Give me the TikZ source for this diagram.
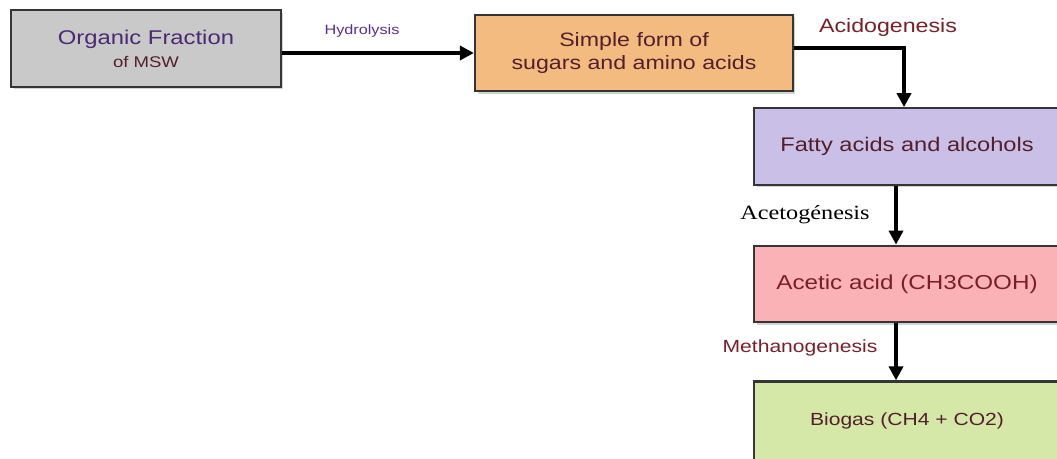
\documentclass[tikz,border=0pt]{standalone}
\usepackage{fontspec}
\setmainfont{Liberation Sans}[FakeStretch=1.2]
\newfontfamily\serifnote{Liberation Serif}[FakeStretch=1.2]
\usetikzlibrary{shapes.geometric, arrows.meta, shadows}
\definecolor{boxline}{HTML}{353535}
\definecolor{grayfill}{HTML}{C9C9C9}
\definecolor{orangefill}{HTML}{F3BB80}
\definecolor{lavenderfill}{HTML}{C9BFE7}
\definecolor{pinkfill}{HTML}{FBB2B7}
\definecolor{greenfill}{HTML}{D5E8A8}
\definecolor{orgpurple}{HTML}{4A2A72}
\definecolor{hydropurple}{HTML}{5A2D96}
\definecolor{darkred}{HTML}{7A1F28}
\definecolor{browntext}{HTML}{52202C}
\tikzstyle{stage} = [rectangle, minimum height=1.53cm, text centered, align=center, draw=boxline, line width=1.3pt, drop shadow={shadow xshift=0.05cm, shadow yshift=-0.05cm, opacity=0.35}]
\tikzstyle{steplabel} = [inner sep=0pt, text=darkred, font=\fontsize{10.5}{12}\selectfont]
\tikzstyle{arrow} = [line width=2.1pt, -{Triangle[length=8pt, width=8pt]}]

\begin{document}
\begin{tikzpicture}[x=0.02cm, y=-0.02cm]
\clip (0,0) rectangle (1057,458);
% NODES
\node (organic) [stage, fill=grayfill, minimum width=5.4cm] at (146,48.5)
  {\fontsize{11.3}{13}\selectfont\color{orgpurple}Organic Fraction\\[1pt]
   \fontsize{8.8}{10}\selectfont\color{browntext}of MSW};
\node (simple) [stage, fill=orangefill, minimum width=6.36cm, text=browntext, font=\fontsize{11}{13.5}\selectfont] at (634,53)
  {Simple form of\\sugars and amino acids};
\node (fatty) [stage, fill=lavenderfill, minimum width=6.12cm, text=browntext, font=\fontsize{11.2}{13}\selectfont] at (907,146.5)
  {Fatty acids and alcohols};
\node (acetic) [stage, fill=pinkfill, minimum width=6.12cm, text=darkred, font=\fontsize{11.5}{13}\selectfont] at (907,284)
  {Acetic acid (CH3COOH)};
\node (biogas) [stage, fill=greenfill, minimum width=6.12cm, minimum height=1.58cm, text=browntext, font=\fontsize{10}{12}\selectfont] at (907,421)
  {Biogas (CH4 + CO2)};

% LABELS
\node (hydro-lbl) [steplabel, text=hydropurple, font=\fontsize{7.7}{9}\selectfont] at (362,31) {Hydrolysis};
\node (acido-lbl) [steplabel, font=\fontsize{11}{13}\selectfont] at (888,27) {Acidogenesis};
\node (aceto-lbl) [steplabel, text=black, font=\serifnote\fontsize{11.5}{13}\selectfont] at (805,215) {Acetogénesis};
\node (metha-lbl) [steplabel, font=\fontsize{10}{12}\selectfont] at (800,348) {Methanogenesis};

% ARROWS
\draw [arrow] (organic.east |- simple.west) -- (simple.west);
\draw [arrow] ([yshift=0.1cm]simple.east) -| ([xshift=-0.06cm]fatty.north);
\draw [arrow] ([xshift=-0.22cm]fatty.south) -- ([xshift=-0.22cm]acetic.north);
\draw [arrow] ([xshift=-0.22cm]acetic.south) -- ([xshift=-0.22cm]biogas.north);
\end{tikzpicture}
\end{document}
